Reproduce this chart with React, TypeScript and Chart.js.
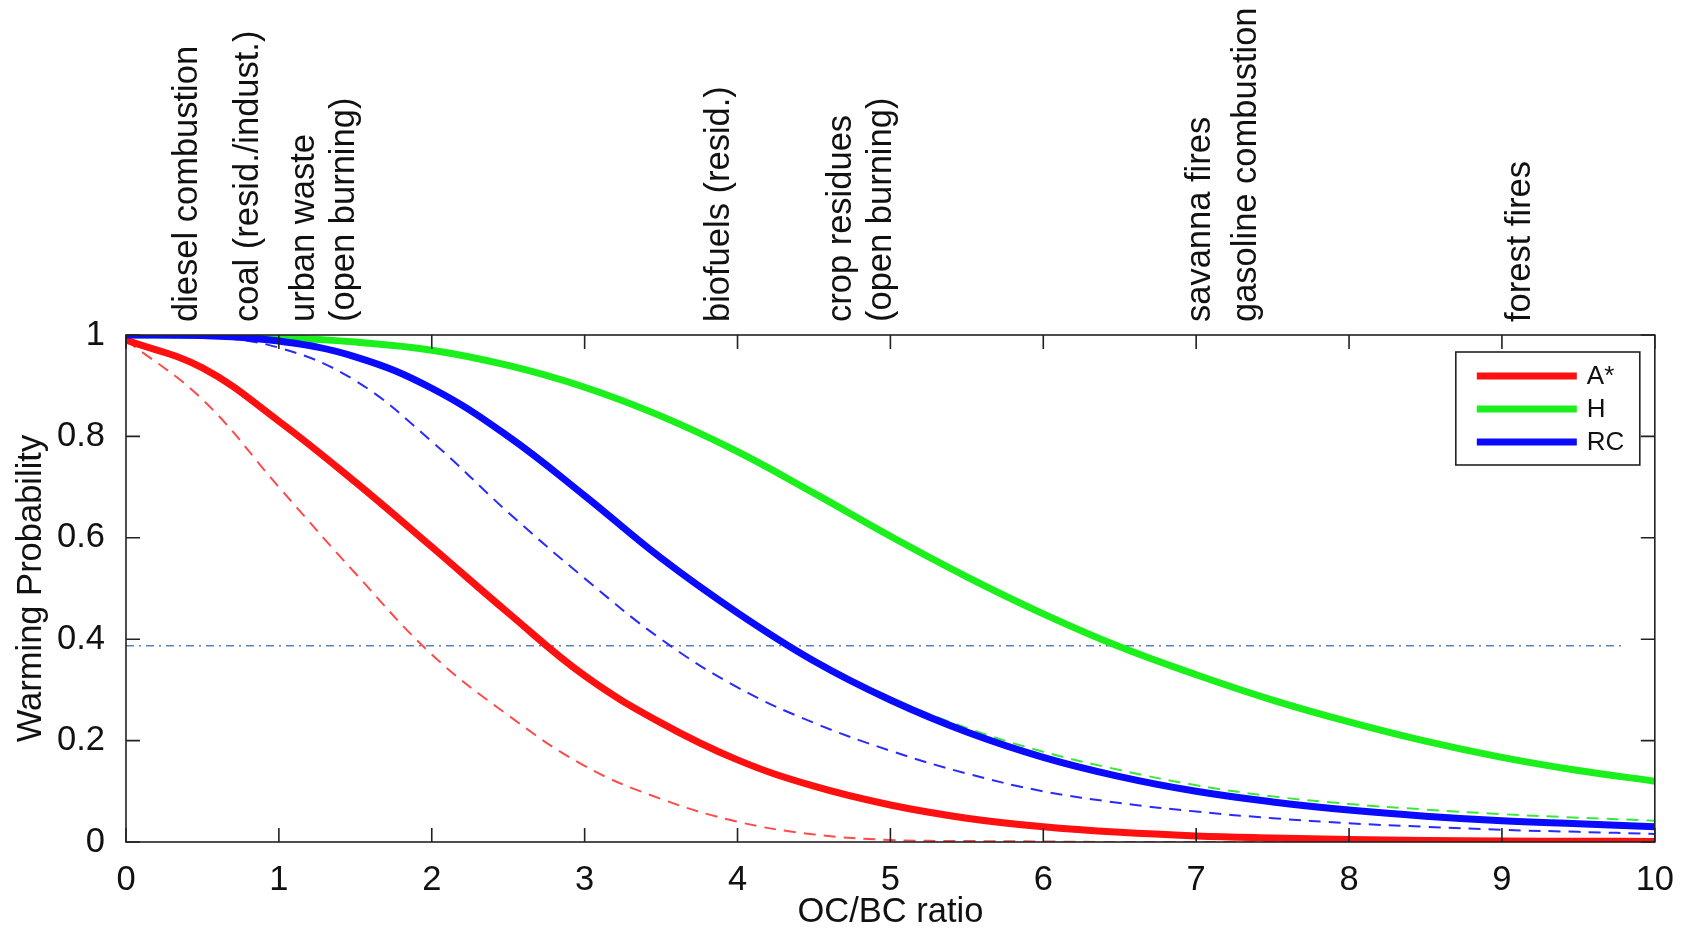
import { useEffect, useRef } from 'react';
import { Chart, registerables } from 'chart.js';

Chart.register(...registerables);

// ---- data ----
const xValues = [0, 0.5, 1, 1.5, 2, 2.5, 3, 3.5, 4, 4.5, 5, 5.5, 6, 6.5, 7, 7.5, 8, 8.5, 9, 9.5, 10];

const aStarSolid = [0.99, 0.935, 0.83, 0.71, 0.582, 0.452, 0.328, 0.235, 0.162, 0.11, 0.073, 0.047, 0.03, 0.019, 0.012, 0.008, 0.005, 0.003, 0.002, 0.0015, 0.001];
const aStarDashed = [0.99, 0.873, 0.7, 0.53, 0.37, 0.25, 0.15, 0.085, 0.04, 0.015, 0.004, 0.002, 0.001, 0, 0, 0, 0, 0, 0, 0, 0];
const hSolid = [1.0, 1.0, 0.995, 0.986, 0.97, 0.94, 0.897, 0.84, 0.77, 0.688, 0.603, 0.523, 0.45, 0.385, 0.33, 0.28, 0.237, 0.199, 0.167, 0.141, 0.12];
const hDashed = [1.0, 0.999, 0.988, 0.957, 0.895, 0.8, 0.683, 0.56, 0.452, 0.36, 0.285, 0.225, 0.178, 0.142, 0.112, 0.09, 0.075, 0.064, 0.055, 0.048, 0.042];
const rcSolid = [1.0, 0.999, 0.988, 0.957, 0.895, 0.8, 0.683, 0.56, 0.452, 0.357, 0.28, 0.217, 0.167, 0.129, 0.1, 0.079, 0.063, 0.051, 0.042, 0.036, 0.03];
const rcDashed = [1.0, 0.997, 0.975, 0.91, 0.79, 0.65, 0.52, 0.4, 0.305, 0.235, 0.18, 0.135, 0.1, 0.077, 0.06, 0.047, 0.037, 0.03, 0.024, 0.02, 0.016];

const thresholdValue = 0.387;
const thresholdRange = [0, 9.8];

const xTicks = [0, 1, 2, 3, 4, 5, 6, 7, 8, 9, 10];
const yTicks = [0, 0.2, 0.4, 0.6, 0.8, 1];

const sourceLabels = [
  ['diesel combustion'],
  ['coal (resid./indust.)'],
  ['urban waste', '(open burning)'],
  ['biofuels (resid.)'],
  ['crop residues', '(open burning)'],
  ['savanna fires'],
  ['gasoline combustion'],
  ['forest fires'],
];
const sourcePositions = [0.405, 0.8, 1.3, 3.885, 4.81, 7.03, 7.33, 9.12];

const FONT_FAMILY = '"Liberation Sans", Arial, Helvetica, sans-serif';
const FONT_SIZE = 34.5;
const TEXT_COLOR = '#111111';

const toPoints = (ys: number[]) => xValues.map((x, i) => ({ x, y: ys[i] }));

const framePlugin = {
  id: 'framePlugin',
  afterDraw(chart: any) {
    const { ctx, chartArea } = chart;
    const xs = chart.scales.x;
    const ys = chart.scales.y;
    const { left, right, top, bottom } = chartArea;
    ctx.save();

    // box
    ctx.strokeStyle = '#222222';
    ctx.lineWidth = 1.6;
    ctx.setLineDash([]);
    ctx.strokeRect(left, top, right - left, bottom - top);

    // inward ticks
    const tl = 14;
    ctx.beginPath();
    xTicks.forEach((v) => {
      const px = xs.getPixelForValue(v);
      ctx.moveTo(px, bottom);
      ctx.lineTo(px, bottom - tl);
      ctx.moveTo(px, top);
      ctx.lineTo(px, top + tl);
    });
    yTicks.forEach((v) => {
      const py = ys.getPixelForValue(v);
      ctx.moveTo(left, py);
      ctx.lineTo(left + tl, py);
      ctx.moveTo(right, py);
      ctx.lineTo(right - tl, py);
    });
    ctx.stroke();

    // top source labels (rotated)
    ctx.fillStyle = TEXT_COLOR;
    ctx.font = `${FONT_SIZE}px ${FONT_FAMILY}`;
    ctx.textAlign = 'left';
    ctx.textBaseline = 'middle';
    const lh = 40;
    sourceLabels.forEach((lines, i) => {
      const px = xs.getPixelForValue(sourcePositions[i]);
      ctx.save();
      ctx.translate(px, top - 13);
      ctx.rotate(-Math.PI / 2);
      lines.forEach((line, j) => {
        const off = (j - (lines.length - 1) / 2) * lh;
        ctx.fillText(line, 0, off);
      });
      ctx.restore();
    });

    // legend
    const entries = chart.data.datasets.filter((d: any) => d.label);
    const bw = 184;
    const bh = 113;
    const bx = right - 15 - bw;
    const by = top + 17;
    ctx.fillStyle = '#ffffff';
    ctx.fillRect(bx, by, bw, bh);
    ctx.strokeStyle = '#222222';
    ctx.lineWidth = 1.6;
    ctx.strokeRect(bx, by, bw, bh);
    ctx.font = `26px ${FONT_FAMILY}`;
    ctx.textAlign = 'left';
    ctx.textBaseline = 'middle';
    entries.forEach((d: any, i: number) => {
      const yy = by + 24 + i * 33;
      ctx.strokeStyle = d.borderColor;
      ctx.lineWidth = 7;
      ctx.beginPath();
      ctx.moveTo(bx + 21, yy);
      ctx.lineTo(bx + 121, yy);
      ctx.stroke();
      ctx.fillStyle = TEXT_COLOR;
      ctx.fillText(d.label, bx + 131, yy + 1);
    });

    ctx.restore();
  },
};

export default function App() {
  const canvasRef = useRef<HTMLCanvasElement | null>(null);

  useEffect(() => {
    if (!canvasRef.current) return;
    const RED = '#ff1010';
    const GREEN = '#1cf01c';
    const BLUE = '#0a0aff';
    const base = { pointRadius: 0, fill: false, tension: 0.4 };
    const chart = new Chart(canvasRef.current, {
      type: 'line',
      data: {
        datasets: [
          { ...base, label: 'A*', data: toPoints(aStarSolid), borderColor: RED, borderWidth: 7, order: 2 },
          { ...base, label: 'H', data: toPoints(hSolid), borderColor: GREEN, borderWidth: 7, order: 3 },
          { ...base, label: 'RC', data: toPoints(rcSolid), borderColor: BLUE, borderWidth: 7, order: 1 },
          { ...base, label: '', data: toPoints(aStarDashed), borderColor: '#ff4a4a', borderWidth: 2, borderDash: [12, 8], order: 6 },
          { ...base, label: '', data: toPoints(hDashed), borderColor: '#3ae83a', borderWidth: 2, borderDash: [12, 8], order: 4 },
          { ...base, label: '', data: toPoints(rcDashed), borderColor: '#2a2aff', borderWidth: 2, borderDash: [12, 8], order: 5 },
          {
            pointRadius: 0,
            fill: false,
            label: '',
            data: thresholdRange.map((x) => ({ x, y: thresholdValue })),
            borderColor: '#5a82c2',
            borderWidth: 1.6,
            borderDash: [8, 5, 2, 5],
            order: 7,
          },
        ],
      },
      options: {
        animation: false,
        responsive: true,
        maintainAspectRatio: false,
        layout: { padding: { top: 335, right: 29, left: 0, bottom: 0 } },
        plugins: { legend: { display: false }, tooltip: { enabled: false } },
        scales: {
          x: {
            type: 'linear',
            min: 0,
            max: 10,
            afterBuildTicks: (s: any) => {
              s.ticks = xTicks.map((v) => ({ value: v }));
            },
            afterFit: (s: any) => {
              s.height = 88;
            },
            grid: { display: false },
            border: { display: false },
            ticks: {
              color: TEXT_COLOR,
              font: { family: FONT_FAMILY, size: FONT_SIZE },
              padding: 10,
              maxRotation: 0,
              callback: (v: any) => String(v),
            },
            title: {
              display: true,
              text: 'OC/BC ratio',
              color: TEXT_COLOR,
              font: { family: FONT_FAMILY, size: FONT_SIZE, lineHeight: 1 },
              padding: { top: 0, bottom: 0 },
            },
          },
          y: {
            type: 'linear',
            min: 0,
            max: 1,
            afterBuildTicks: (s: any) => {
              s.ticks = yTicks.map((v) => ({ value: v }));
            },
            afterFit: (s: any) => {
              s.width = 126;
            },
            grid: { display: false },
            border: { display: false },
            ticks: {
              color: TEXT_COLOR,
              font: { family: FONT_FAMILY, size: FONT_SIZE },
              padding: 13,
              callback: (v: any) => String(v),
            },
            title: {
              display: true,
              text: 'Warming Probability',
              color: TEXT_COLOR,
              font: { family: FONT_FAMILY, size: FONT_SIZE, lineHeight: 1 },
              padding: { top: 14, bottom: 0 },
            },
          },
        },
      },
      plugins: [framePlugin],
    });
    return () => chart.destroy();
  }, []);

  return (
    <div style={{ position: 'fixed', left: 0, top: 0, width: 1684, height: 930, background: '#ffffff' }}>
      <canvas ref={canvasRef} />
    </div>
  );
}
